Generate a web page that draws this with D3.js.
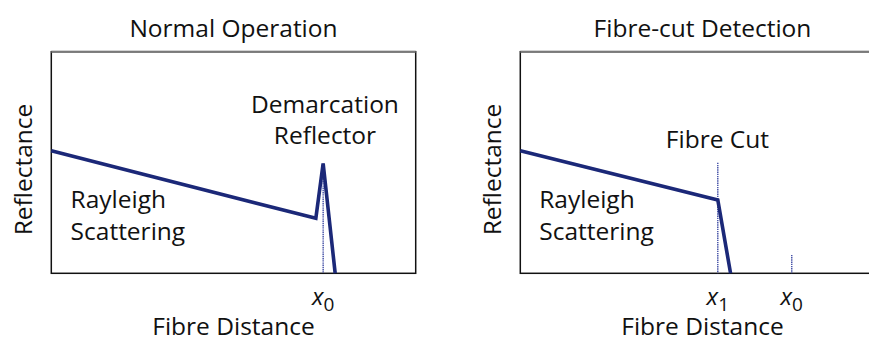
<!DOCTYPE html>
<html>
<head>
<meta charset="utf-8">
<script src="https://cdn.jsdelivr.net/npm/d3@7"></script>
<style>
  body { margin: 0; background: #fff; }
  svg text { font-family: "Open Sans", "Noto Sans", sans-serif; fill: #111; }
</style>
</head>
<body>
<div id="chart"></div>
<script>
// trace in arbitrary units: x 0..10 across the box, y 0..10 up the box
const normalX = [0, 7.26, 7.46, 7.79];
const normalY = [5.53, 2.48, 4.96, 0];
const cutX = [0, 5.42, 5.77];
const cutY = [5.53, 3.31, 0];

// dotted marker lines [x, yTop]
const normalMarks = [[7.46, 4.96]];
const cutMarks = [[5.42, 4.99], [7.45, 0.83]];

// x tick labels: [x, base, subscript]
const normalTicks = [[7.46, "x", "0"]];
const cutTicks = [[5.42, "x", "1"], [7.45, "x", "0"]];

const titles = ["Normal Operation", "Fibre-cut Detection"];

const W = 869, H = 340;
const boxW = 364.4, boxH = 221.6, boxTop = 51.7;
const navy = "#1b2878";
const fs = "24.5px";

const svg = d3.select("#chart").append("svg")
    .attr("width", W)
    .attr("height", H);

function drawPanel(left, title, xs, ys, marks, ticks, notes) {
    const g = svg.append("g").attr("transform", `translate(${left},${boxTop})`);

    const x = d3.scaleLinear().domain([0, 10]).range([0, boxW]);
    const y = d3.scaleLinear().domain([0, 10]).range([boxH, 0]);

    // frame
    g.append("rect")
        .attr("width", boxW)
        .attr("height", boxH)
        .attr("fill", "none")
        .attr("stroke", "#111")
        .attr("stroke-width", 1.5);
    g.append("line")
        .attr("x1", 0).attr("x2", boxW)
        .attr("y1", 0).attr("y2", 0)
        .attr("stroke", "#7a7a7a")
        .attr("stroke-width", 2);

    // dotted markers
    g.selectAll(".mark")
        .data(marks)
        .enter().append("line")
        .attr("class", "mark")
        .attr("x1", d => x(d[0])).attr("x2", d => x(d[0]))
        .attr("y1", d => y(d[1])).attr("y2", y(0))
        .attr("stroke", "#2e3c9c")
        .attr("stroke-width", 1.3)
        .attr("stroke-dasharray", "1.4,0.8");

    const pts = xs.map((v, i) => [v, ys[i]]);
    g.append("path")
        .datum(pts)
        .attr("fill", "none")
        .attr("stroke", navy)
        .attr("stroke-width", 3.6)
        .attr("stroke-linejoin", "miter")
        .attr("d", d3.line().x(d => x(d[0])).y(d => y(d[1])));

    // tick labels
    const t = g.selectAll(".tick")
        .data(ticks)
        .enter().append("text")
        .attr("class", "tick")
        .attr("x", d => x(d[0]))
        .attr("y", boxH + 32)
        .attr("text-anchor", "middle")
        .style("font-size", "24px");
    t.append("tspan").style("font-style", "italic").text(d => d[1]);
    t.append("tspan").attr("dy", 6).style("font-size", "19px").text(d => d[2]);

    // titles and axis labels
    g.append("text")
        .attr("x", boxW / 2).attr("y", -15)
        .attr("text-anchor", "middle")
        .style("font-size", fs)
        .text(title);
    g.append("text")
        .attr("x", boxW / 2).attr("y", boxH + 62)
        .attr("text-anchor", "middle")
        .style("font-size", fs)
        .text("Fibre Distance");
    g.append("text")
        .attr("transform", `translate(-19.6,${boxH / 2 + 7}) rotate(-90)`)
        .attr("text-anchor", "middle")
        .style("font-size", fs)
        .text("Reflectance");

    // annotations
    notes.forEach(n => {
        g.append("text")
            .attr("x", x(n.x)).attr("y", y(n.y))
            .attr("text-anchor", n.anchor)
            .style("font-size", fs)
            .text(n.text);
    });
}

drawPanel(51.3, titles[0], normalX, normalY, normalMarks, normalTicks, [
    { text: "Demarcation", x: 7.51, y: 7.23, anchor: "middle" },
    { text: "Reflector", x: 7.51, y: 5.83, anchor: "middle" },
    { text: "Rayleigh", x: 0.53, y: 2.95, anchor: "start" },
    { text: "Scattering", x: 0.53, y: 1.5, anchor: "start" }
]);

drawPanel(520.3, titles[1], cutX, cutY, cutMarks, cutTicks, [
    { text: "Fibre Cut", x: 5.41, y: 5.67, anchor: "middle" },
    { text: "Rayleigh", x: 0.52, y: 2.95, anchor: "start" },
    { text: "Scattering", x: 0.52, y: 1.5, anchor: "start" }
]);
</script>
</body>
</html>
